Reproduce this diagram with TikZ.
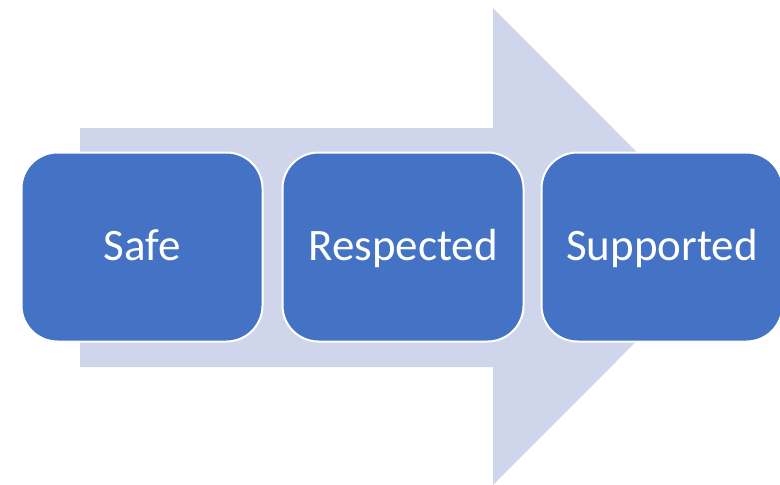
\documentclass[tikz,border=0pt]{standalone}
\usepackage{fontspec}
\setmainfont{Carlito}
\definecolor{pil}{HTML}{CFD5EA}
\definecolor{boks}{HTML}{4472C4}
\begin{document}
\begin{tikzpicture}[x=1pt,y=-1pt,
		steg/.style={draw=white,line width=2pt,fill=boks,rounded corners=36pt,
			minimum width=241pt,minimum height=189pt,inner sep=0pt,
			text height=29pt,text depth=3pt,
			text=white,font=\fontsize{45}{52}\selectfont}]
		\useasboundingbox (0,0) rectangle (780,485);
		% Stor pil bak stegene
		\fill[pil] (80,128) -- (493,128) -- (493,8) -- (731,246.5) -- (493,485)
			-- (493,367) -- (80,367) -- cycle;
		% Stegene
		\node[steg] (trygg) at (142,247) {Safe};
		\node[steg] (respekt) at (403,247) {Respected};
		\node[steg] (stoette) at (662,247) {Supported};
	\end{tikzpicture}
\end{document}
